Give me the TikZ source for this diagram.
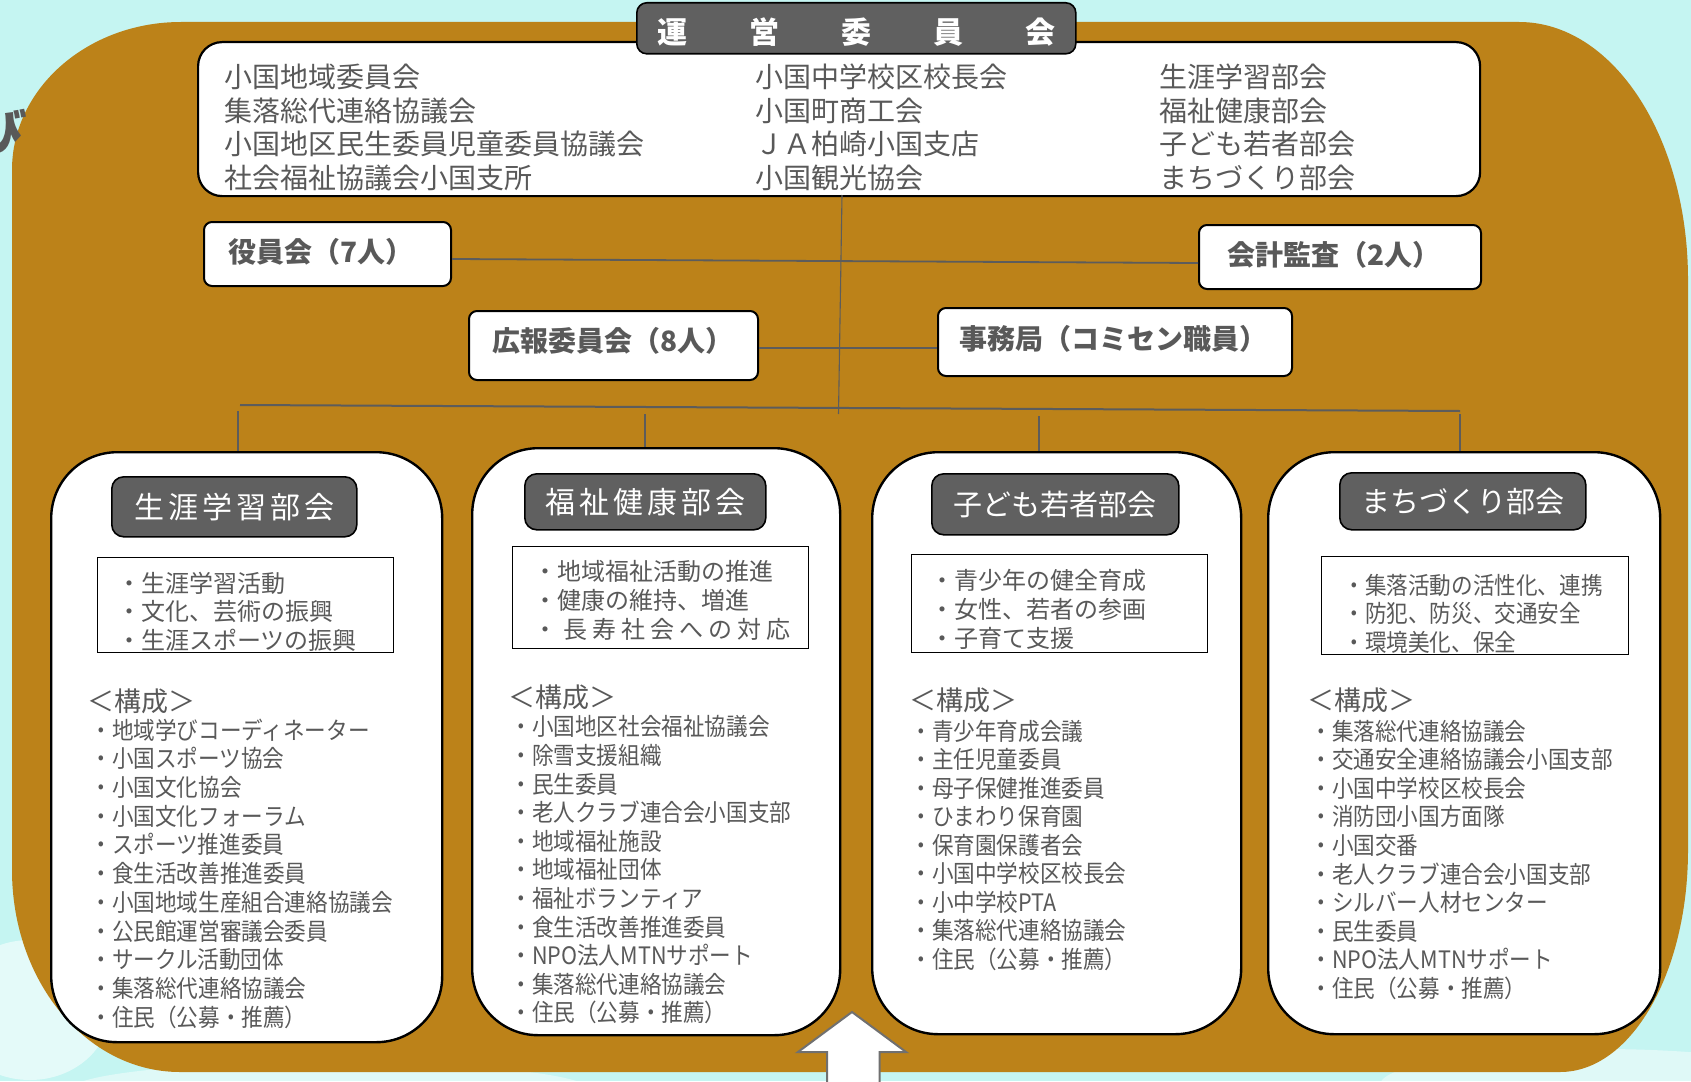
\documentclass[tikz,border=0pt]{standalone}
\usepackage{fontspec}
\setmainfont{Noto Sans CJK JP}
\newfontfamily\condfont[FakeStretch=0.9]{Noto Sans CJK JP}
\usetikzlibrary{calc}
\definecolor{bgcyan}{HTML}{C5F5F2}
\definecolor{brownbg}{HTML}{BC8219}
\definecolor{tgray}{HTML}{595959}
\definecolor{hgray}{HTML}{606060}
\definecolor{lgray}{HTML}{5C5C5C}
\definecolor{agray}{HTML}{707070}
\newcommand\fs[1]{\fontsize{#1pt}{#1pt}\selectfont}
\tikzset{
  wbox/.style={draw=black, fill=white, line width=1.1pt, inner sep=0pt, anchor=north west},
  sbox/.style={wbox, rounded corners=4pt, line width=1pt},
  bigbox/.style={wbox, rounded corners=33pt, line width=1.2pt},
  hdr/.style={draw=black, fill=hgray, line width=0.8pt, rounded corners=6pt, inner sep=0pt, anchor=north west, text=white},
  rect/.style={draw=black, fill=white, line width=0.6pt, inner sep=0pt, anchor=north west},
  txt/.style={inner sep=0pt, anchor=base west, text=tgray},
  ln/.style={draw=lgray, line width=0.9pt},
  thinln/.style={draw=lgray, line width=0.55pt},
}
\begin{document}
\begin{tikzpicture}[x=0.5pt, y={(0pt,-0.5pt)}]
\useasboundingbox (0,0) rectangle (1691,1081);
\fill[bgcyan] (0,0) rectangle (1691,1081);
% faint clouds
\fill[white, opacity=0.55] (30,1010) ellipse [x radius=40pt, y radius=35pt];
\fill[white, opacity=0.45] (330,1090) ellipse [x radius=130pt, y radius=14pt];
\fill[white, opacity=0.45] (1600,1085) ellipse [x radius=110pt, y radius=18pt];
% brown panel
\fill[brownbg] (181,22) -- (1519,22) .. controls (1613,22) and (1688,137) .. (1688,280)
  -- (1688,850) .. controls (1688,973) and (1631,1072) .. (1560,1072)
  -- (180,1072) .. controls (87,1072) and (12,982) .. (12,870)
  -- (12,170) .. controls (12,88) and (88,22) .. cycle;
\node[txt, font=\fs{26}\bfseries, rotate=-8] (bi) at (-30,146) {び};

% top box and title
\node[wbox, rounded corners=12pt, minimum width=641pt, minimum height=77pt] (TB) at (197,41) {};
\node[hdr, rounded corners=5pt, minimum width=219.5pt, minimum height=25.5pt] (TT) at (636,2) {};
\node[inner sep=0pt, anchor=base west, text=white, font=\fs{15}\bfseries] (TTt) at (657,43.4)
  {運\kern31pt 営\kern31pt 委\kern31pt 員\kern31pt 会};

\foreach \t [count=\i] in {小国地域委員会, 集落総代連絡協議会, 小国地区民生委員児童委員協議会, 社会福祉協議会小国支所}
  \node[txt, font=\fs{14}] (ca\i) at (224, {87.6+33.7*(\i-1)}) {\t};
\foreach \t [count=\i] in {小国中学校区校長会, 小国町商工会, ＪＡ柏崎小国支店, 小国観光協会}
  \node[txt, font=\fs{14}] (cb\i) at (755, {87.6+33.7*(\i-1)}) {\t};
\foreach \t [count=\i] in {生涯学習部会, 福祉健康部会, 子ども若者部会, まちづくり部会}
  \node[txt, font=\fs{14}] (cc\i) at (1159, {87.6+33.7*(\i-1)}) {\t};

% small boxes
\node[sbox, minimum width=123.5pt, minimum height=32pt] (Y) at (203,221) {};
\node[sbox, minimum width=141pt, minimum height=32pt] (K) at (1198,224) {};
\node[sbox, minimum width=144.5pt, minimum height=34.5pt] (P) at (468,310) {};
\node[sbox, minimum width=177pt, minimum height=34pt] (J) at (937,307) {};
\node[txt, font=\fs{14}\bfseries] (Yt) at (228,262.6) {役員会（7人）};
\node[txt, font=\fs{14}\bfseries] (Kt) at (1227,265.6) {会計監査（2人）};
\node[txt, font=\fs{14}\bfseries] (Pt) at (492,351.6) {広報委員会（8人）};
\node[txt, font=\fs{14}\bfseries] (Jt) at (959,349.6) {事務局（コミセン職員）};

% connectors
\coordinate (vtop) at (842,195);
\coordinate (vbot) at (838.5,414);
\coordinate (busl) at (240,405);
\coordinate (busr) at (1460,411);
\coordinate (d1) at (238,411);
\coordinate (d2) at (645,414);
\coordinate (d3) at (1039,416);
\coordinate (d4) at (1460,414);
\draw[thinln] (vtop) -- (vbot);
\draw[ln] ($(Y.east)+(0,5)$) -- ($(K.west)+(0,6)$);
\draw[ln, line width=0.7pt] ($(P.east)+(0,2.5)$) -- ($(J.west)+(0,6)$);
\draw[ln, line width=1pt] (busl) -- (busr);

% bottom boxes
\node[bigbox, minimum width=195.5pt, minimum height=295pt] (B1) at (50,451) {};
\node[bigbox, minimum width=184pt, minimum height=293.5pt] (B2) at (471,447) {};
\node[bigbox, minimum width=184.5pt, minimum height=291pt] (B3) at (871,451) {};
\node[bigbox, minimum width=196pt, minimum height=291pt] (B4) at (1267,451) {};
\draw[thinln] (d1) -- (d1 |- B1.north);
\draw[thinln] (d2) -- (d2 |- B2.north);
\draw[thinln] (d3) -- (d3 |- B3.north);
\draw[thinln] (d4) -- (d4 |- B4.north);

% headers
\node[hdr, minimum width=122.5pt, minimum height=30pt, font=\fs{15}] (H1) at (111,476)
  {生\kern2pt 涯\kern2pt 学\kern2pt 習\kern2pt 部\kern2pt 会};
\node[hdr, minimum width=120.5pt, minimum height=28pt, font=\fs{15}] (H2) at (524,473)
  {福\kern2pt 祉\kern2pt 健\kern2pt 康\kern2pt 部\kern2pt 会};
\node[hdr, minimum width=123.5pt, minimum height=30.5pt, font=\fs{14.5}] (H3) at (931,473) {子ども若者部会};
\node[hdr, minimum width=123pt, minimum height=28.5pt, font=\fs{14.5}] (H4) at (1339,472) {まちづくり部会};

% inner rects
\node[rect, minimum width=148pt, minimum height=47.5pt] (R1) at (97,557) {};
\node[rect, minimum width=148pt, minimum height=51pt] (R2) at (512,546) {};
\node[rect, minimum width=148pt, minimum height=49pt] (R3) at (911,554) {};
\node[rect, minimum width=153.5pt, minimum height=49pt] (R4) at (1321,556) {};

\foreach \t/\yy [count=\i] in {・生涯学習活動/592.1, ・文化、芸術の振興/620.8, ・生涯スポーツの振興/649.1}
  \node[txt, font=\fs{12}] (r1\i) at (117,\yy) {\t};
\foreach \t/\yy [count=\i] in {・地域福祉活動の推進/580.1, ・健康の維持、増進/609.1,
  {・\kern3pt 長\kern2.5pt 寿\kern2.5pt 社\kern2.5pt 会\kern2.5pt へ\kern2.5pt の\kern2.5pt 対\kern2.5pt 応}/638.1}
  \node[txt, font=\fs{12}] (r2\i) at (532.7,\yy) {\t};
\foreach \t/\yy [count=\i] in {・青少年の健全育成/589.1, ・女性、若者の参画/618.1, ・子育て支援/647.1}
  \node[txt, font=\fs{12}] (r3\i) at (930,\yy) {\t};
\foreach \t/\yy [count=\i] in {・集落活動の活性化、連携/594.1, ・防犯、防災、交通安全/622.1, ・環境美化、保全/651.1}
  \node[txt, font=\condfont\fs{12}] (r4\i) at (1343,\yy) {\t};

% composition labels
\node[txt, font=\fs{13.5}] (k1) at (87,711.1) {＜構成＞};
\node[txt, font=\fs{13.5}] (k2) at (508,707.1) {＜構成＞};
\node[txt, font=\fs{13.5}] (k3) at (909,710.1) {＜構成＞};
\node[txt, font=\fs{13.5}] (k4) at (1307,710.1) {＜構成＞};

\foreach \t [count=\i] in {地域学びコーディネーター, 小国スポーツ協会, 小国文化協会, 小国文化フォーラム,
  スポーツ推進委員, 食生活改善推進委員, 小国地域生産組合連絡協議会, 公民館運営審議会委員,
  サークル活動団体, 集落総代連絡協議会, 住民（公募・推薦）}
  \node[txt, font=\condfont\fs{12}] (la\i) at (90, {739.1+28.7*(\i-1)}) {・\t};
\foreach \t [count=\i] in {小国地区社会福祉協議会, 除雪支援組織, 民生委員, 老人クラブ連合会小国支部,
  地域福祉施設, 地域福祉団体, 福祉ボランティア, 食生活改善推進委員, NPO法人MTNサポート,
  集落総代連絡協議会, 住民（公募・推薦）}
  \node[txt, font=\condfont\fs{12}] (lb\i) at (510, {735.8+28.6*(\i-1)}) {・\t};
\foreach \t [count=\i] in {青少年育成会議, 主任児童委員, 母子保健推進委員, ひまわり保育園, 保育園保護者会,
  小国中学校区校長会, 小中学校PTA, 集落総代連絡協議会, 住民（公募・推薦）}
  \node[txt, font=\condfont\fs{12}] (lc\i) at (910, {740.1+28.5*(\i-1)}) {・\t};
\foreach \t [count=\i] in {集落総代連絡協議会, 交通安全連絡協議会小国支部, 小国中学校区校長会, 消防団小国方面隊,
  小国交番, 老人クラブ連合会小国支部, シルバー人材センター, 民生委員, NPO法人MTNサポート, 住民（公募・推薦）}
  \node[txt, font=\condfont\fs{12}] (ld\i) at (1310, {740.1+28.6*(\i-1)}) {・\t};

% up arrow
\draw[draw=agray, fill=white, line width=1pt, line join=miter]
  (852,1012) -- (906,1052) -- (879.5,1052) -- (879.5,1095) -- (827,1095) -- (827,1052) -- (798,1052) -- cycle;
\end{tikzpicture}
\end{document}
